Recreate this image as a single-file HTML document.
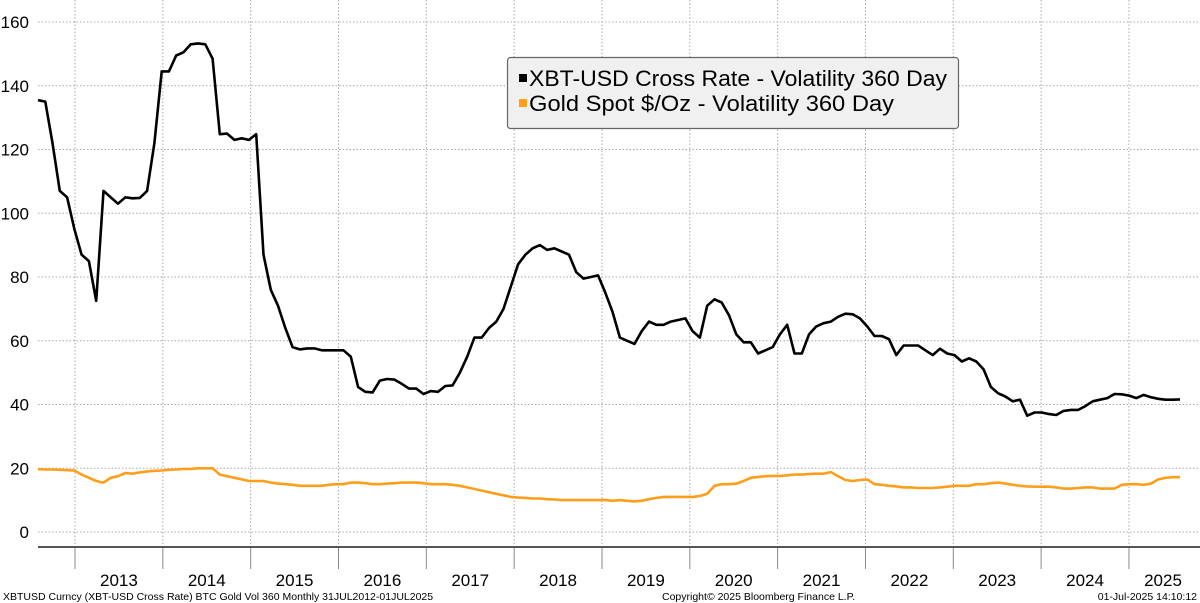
<!DOCTYPE html>
<html><head><meta charset="utf-8"><style>
html,body{margin:0;padding:0;background:#fff;width:1200px;height:603px;overflow:hidden}
svg{display:block;font-family:"Liberation Sans",Tahoma,sans-serif}
</style></head><body>
<svg id="chart" width="1200" height="603" viewBox="0 0 1200 603">
<g id="grid"></g>
<g id="yaxis"></g>
<g id="xaxis"></g>
<g id="series"></g>
<g>
<rect x="507.5" y="57.5" width="451" height="71" rx="3" fill="#f0f0f0" stroke="#666" stroke-width="1.2"/>
<rect x="519" y="74" width="8" height="8" fill="#000"/>
<text x="529" y="86" font-size="22" textLength="418" lengthAdjust="spacingAndGlyphs" fill="#000">XBT-USD Cross Rate - Volatility 360 Day</text>
<rect x="519" y="99" width="8" height="8" fill="#ff9e1b"/>
<text x="529" y="111" font-size="22" textLength="365" lengthAdjust="spacingAndGlyphs" fill="#000">Gold Spot $/Oz - Volatility 360 Day</text>
</g>
<text x="3" y="600" font-size="10.5" fill="#000">XBTUSD Curncy (XBT-USD Cross Rate) BTC Gold Vol 360  Monthly 31JUL2012-01JUL2025</text>
<text x="662" y="600" font-size="10.5" fill="#000">Copyright© 2025 Bloomberg Finance L.P.</text>
<text x="1197" y="600" font-size="10.5" fill="#000" text-anchor="end">01-Jul-2025 14:10:12</text>
</svg>
<script>
const yTicks=[0,20,40,60,80,100,120,140,160];
const years=["2013","2014","2015","2016","2017","2018","2019","2020","2021","2022","2023","2024","2025"];
const xbtVol=[135.5,135,122,107,105,95,87,85,72.5,107,
105,103,105,104.7,104.8,107,122,144.5,144.5,149.5,
150.5,153,153.3,153,148.5,124.8,125,123,123.5,123,
124.8,87,76,71,64,58,57.3,57.6,57.6,57,
57,57,57,55,45.5,44,43.8,47.5,48,47.8,
46.5,45,45,43.3,44.2,44,45.8,46,50,55,
61,61,64,66,70,77,84,87,89,90,
88.5,89,88,87,81.5,79.5,80,80.5,75,69,
61,60,59,63,66,65,65,66,66.5,67,
63,61,71,73,72,68,62,59.5,59.5,56,
57,58,62,65,56,56,62,64.5,65.5,66,
67.5,68.5,68.3,67,64.5,61.5,61.5,60.5,55.5,58.5,
58.5,58.5,57,55.5,57.5,56,55.5,53.5,54.5,53.5,
51,45.5,43.5,42.5,41,41.5,36.5,37.5,37.5,37,
36.7,38,38.3,38.3,39.5,41,41.5,42,43.3,43.2,
42.8,42,43,42.3,41.8,41.5,41.5,41.6];
const goldVol=[19.7,19.6,19.6,19.5,19.4,19.3,18,17,16,15.5,
17,17.5,18.5,18.3,18.7,19,19.2,19.3,19.5,19.6,
19.8,19.8,20,20,20,18,17.5,17,16.5,16,
16,16,15.5,15.2,15,14.8,14.5,14.5,14.5,14.5,
14.8,15,15,15.5,15.5,15.3,15,15,15.2,15.3,
15.5,15.5,15.5,15.3,15,15,15,14.8,14.5,14,
13.5,13,12.5,12,11.5,11,10.8,10.7,10.5,10.5,
10.3,10.2,10,10,10,10,10,10,10,9.8,
10,9.8,9.6,9.8,10.3,10.7,11,11,11,11,
11,11.3,12,14.5,15,15,15.2,16,17,17.3,
17.5,17.6,17.6,17.8,18,18,18.2,18.3,18.3,18.8,
17.5,16.3,16,16.3,16.5,15,14.8,14.5,14.3,14,
14,13.8,13.8,13.8,14,14.2,14.5,14.5,14.5,15,
15,15.3,15.5,15.2,14.8,14.5,14.3,14.2,14.2,14.2,
14,13.6,13.6,13.8,14,14,13.6,13.6,13.6,14.8,
15,15,14.8,15.2,16.5,17,17.2,17.2];
const NS="http://www.w3.org/2000/svg";
const X0=38,X1=1180,Y0=532,YPX=3.1875,YR0=75,YRW=87.83;
function yS(v){return Y0-v*YPX;}
function xS(i,n){return X0+i*(X1-X0)/(n-1);}
function mk(tag,attrs,parent){const e=document.createElementNS(NS,tag);for(const k in attrs)e.setAttribute(k,attrs[k]);parent.appendChild(e);return e;}
const grid=document.getElementById('grid'),ya=document.getElementById('yaxis'),xa=document.getElementById('xaxis'),ser=document.getElementById('series');
yTicks.forEach(t=>{
  const l=mk('line',{x1:X0,x2:1200,y1:yS(t),y2:yS(t),stroke:'#aaa','stroke-dasharray':'1.5,2','stroke-width':1},grid);
  
  
  const tx=mk('text',{x:29,y:yS(t)+6,'font-size':17,'text-anchor':'end',fill:'#000'},ya);
  tx.textContent=t;
  
  
});
years.forEach((y,i)=>{
  const bx=YR0+i*YRW;
  const g=mk('line',{x1:bx,x2:bx,y1:0,y2:547,stroke:'#aaa','stroke-dasharray':'1.5,2','stroke-width':1},grid);
  
  
  const tk=mk('line',{x1:bx,x2:bx,y1:547,y2:569,stroke:'#888','stroke-width':1},xa);
  
  
  const tx=mk('text',{x:Math.min(bx+YRW/2,1163),y:586,'font-size':17,'text-anchor':'middle',fill:'#000'},xa);
  tx.textContent=y;
  
  
});
const ax=mk('line',{x1:X0,x2:1200,y1:547,y2:547,stroke:'#555','stroke-width':2},xa);


function line(data,color,name){
  const p=data.map((v,i)=>(i?'L':'M')+xS(i,data.length).toFixed(1)+','+yS(v).toFixed(1)).join('');
  const e=mk('path',{d:p,fill:'none',stroke:color,'stroke-width':2.6,'stroke-linejoin':'round'},ser);
  
  
}
line(goldVol,'#ff9e1b','gold-volatility-line');
line(xbtVol,'#000','xbt-volatility-line');
</script>
</body></html>
